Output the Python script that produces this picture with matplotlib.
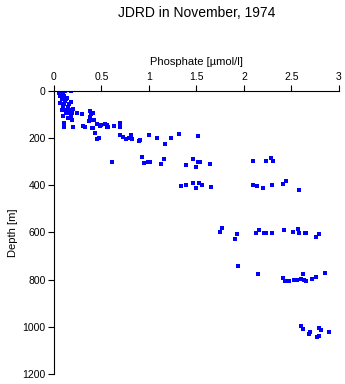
import matplotlib.pyplot as plt

# phosphate [umol/l] and depth [m] samples, grouped roughly by depth
phosphate_upper = [0.06, 0.09, 0.12, 0.18, 0.05, 0.10, 0.06, 0.11, 0.08, 0.13,
                   0.18, 0.06, 0.11, 0.16, 0.10, 0.15, 0.20, 0.08, 0.13, 0.17,
                   0.24, 0.29, 0.38, 0.41, 0.13, 0.16, 0.19, 0.09, 0.18, 0.17,
                   0.19, 0.38, 0.37, 0.41, 0.105, 0.11, 0.20, 0.31, 0.33, 0.40,
                   0.39, 0.40, 0.42, 0.41, 0.43, 0.07, 0.14, 0.12, 0.15]
depth_upper = [0, 0, 0, 0, 10, 12, 22, 22, 36, 36,
               48, 51, 58, 58, 68, 68, 76, 82, 82, 82,
               93, 100, 86, 93, 93, 93, 93, 107, 110, 118,
               125, 111, 128, 124, 138, 152, 155, 149, 155, 159,
               99, 124, 124, 159, 180, 5, 30, 45, 118]

phosphate_mid = [0.45, 0.48, 0.50, 0.54, 0.56, 0.56, 0.57, 0.63, 0.69, 0.69,
                 0.45, 0.47, 0.43, 0.70, 0.73, 0.76, 0.79, 0.82, 0.81, 0.89,
                 0.91, 1.00, 1.08, 1.17, 1.23, 1.32, 1.52, 0.61, 0.93, 0.95,
                 0.99, 1.01, 1.13, 1.16, 1.39, 1.46, 1.50, 1.52, 1.53, 1.54,
                 1.64]
depth_mid = [141, 148, 145, 141, 145, 152, 152, 149, 135, 152,
             203, 201, 180, 189, 197, 203, 200, 206, 189, 212,
             209, 189, 200, 226, 202, 185, 192, 303, 282, 307,
             302, 303, 310, 290, 316, 290, 324, 303, 303, 303,
             310]

phosphate_400 = [1.34, 1.39, 1.46, 1.49, 1.53, 1.56, 1.65,
                 2.10, 2.23, 2.28, 2.31, 2.09, 2.14, 2.20, 2.30, 2.41, 2.44,
                 2.58]
depth_400 = [403, 401, 390, 411, 392, 401, 408,
             298, 299, 284, 299, 399, 405, 411, 401, 396, 384,
             422]

phosphate_deep = [1.77, 1.75, 1.93, 1.91, 2.13, 2.16, 2.21, 2.23, 2.30, 2.42,
                  2.52, 2.57, 2.58, 2.64, 2.65, 2.76, 2.79,
                  1.94, 2.15, 2.41, 2.43, 2.47, 2.53, 2.56, 2.60, 2.62, 2.63,
                  2.65, 2.72, 2.76, 2.85,
                  2.60, 2.62, 2.69, 2.68, 2.79, 2.81, 2.79, 2.77, 2.89]
depth_deep = [583, 600, 608, 629, 604, 591, 604, 604, 604, 591,
              597, 587, 601, 604, 604, 621, 608,
              742, 776, 794, 807, 807, 803, 803, 796, 777, 800,
              807, 799, 789, 773,
              995, 1010, 1020, 1029, 1006, 1012, 1037, 1044, 1020]

x = phosphate_upper + phosphate_mid + phosphate_400 + phosphate_deep
y = depth_upper + depth_mid + depth_400 + depth_deep

plt.rcParams['font.family'] = ['Liberation Sans', 'DejaVu Sans']

fig = plt.figure(figsize=(3.45, 3.84), dpi=100)
ax = fig.add_axes([0.1565, 0.026, 0.826, 0.738])

ax.plot(x, y, 's', color='#0000ff', markersize=2.3, markeredgewidth=0)

ax.set_xlim(0, 3)
ax.set_ylim(1200, 0)
ax.set_xticks([0, 0.5, 1, 1.5, 2, 2.5, 3])
ax.set_xticklabels(['0', '0.5', '1', '1.5', '2', '2.5', '3'])
ax.set_yticks(range(0, 1201, 200))

ax.xaxis.set_ticks_position('top')
ax.xaxis.set_label_position('top')
ax.spines['right'].set_visible(False)
ax.spines['bottom'].set_visible(False)
ax.tick_params(direction='out', length=4, width=0.8, labelsize=7.5, pad=2)
ax.set_xlabel('Phosphate [µmol/l]', fontsize=8, labelpad=5)
ax.set_ylabel('Depth [m]', fontsize=8, labelpad=3)

fig.text(0.57, 0.965, 'JDRD in November, 1974', ha='center', va='center', fontsize=10)

fig.savefig('out.png', dpi=100)
